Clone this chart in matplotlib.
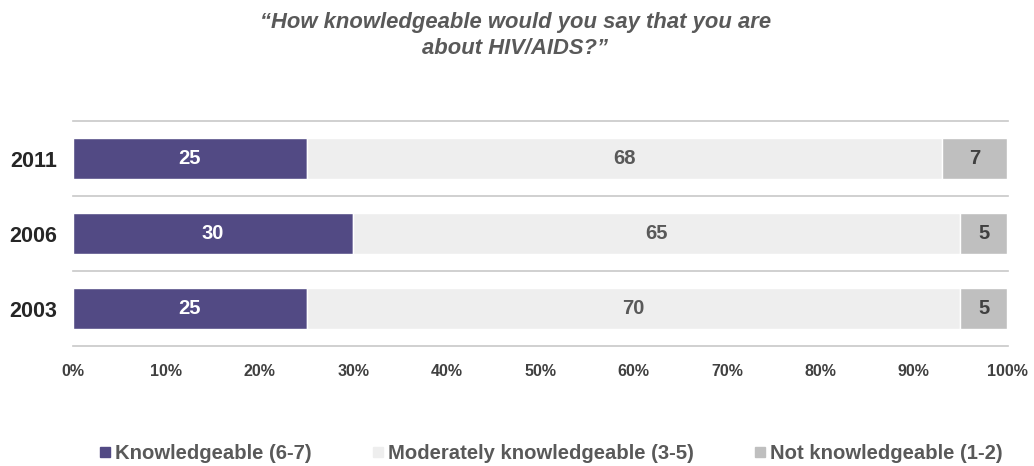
import matplotlib
matplotlib.use("Agg")
import matplotlib.pyplot as plt
from matplotlib.lines import Line2D

plt.rcParams['font.family'] = ['Liberation Sans', 'DejaVu Sans']
plt.rcParams['font.weight'] = 'bold'

years = ["2011", "2006", "2003"]
knowledgeable = [25, 30, 25]
moderate = [68, 65, 70]
not_knowledgeable = [7, 5, 5]
series_names = ["Knowledgeable (6-7)", "Moderately knowledgeable (3-5)", "Not knowledgeable (1-2)"]
colors = ["#524A84", "#EEEEEE", "#BFBFBF"]
label_colors = ["white", "#595959", "#404040"]
xticks = [0, 10, 20, 30, 40, 50, 60, 70, 80, 90, 100]

fig = plt.figure(figsize=(10.34, 4.66), dpi=100)
ax = fig.add_axes([0.0706, 0.2575, 0.9034, 0.4828])

ypos = list(range(len(years)))[::-1]  # 2011 on top
left = [0] * len(years)
for vals, c, lc in zip([knowledgeable, moderate, not_knowledgeable], colors, label_colors):
    bars = ax.barh(ypos, vals, left=left, height=0.54, color=c, edgecolor="white", linewidth=1)
    for b, v in zip(bars, vals):
        ax.text(b.get_x() + b.get_width() / 2, b.get_y() + b.get_height() / 2, str(v),
                ha="center", va="center", color=lc, fontsize=14.5, fontweight="bold")
    left = [l + v for l, v in zip(left, vals)]

ax.set_xlim(0, 100)
ax.set_ylim(-0.5, 2.5)
for yl in [-0.5, 0.5, 1.5, 2.5]:
    ax.axhline(yl, color="#C8C8C8", linewidth=1.2, xmin=0, xmax=1.001, clip_on=False)

ax.set_yticks(ypos)
ax.set_yticklabels(years, fontsize=15.5, fontweight="bold", color="#262626")
ax.set_xticks(xticks)
ax.set_xticklabels([f"{t}%" for t in xticks], fontsize=11.5, fontweight="bold", color="#404040")
ax.tick_params(axis="both", length=0)
ax.tick_params(axis="x", pad=13)
ax.tick_params(axis="y", pad=11.5)
for s in ax.spines.values():
    s.set_visible(False)

fig.text(0.4985, 0.924, "\u201cHow knowledgeable would you say that you are\nabout HIV/AIDS?\u201d",
         ha="center", va="center", fontsize=15.8, fontweight="bold", style="italic",
         color="#595959", linespacing=1.3)

handles = [Line2D([0], [0], marker="s", linestyle="none", markersize=7.5,
                  markerfacecolor=c, markeredgecolor=c) for c in colors]
fig.legend(handles, series_names, loc="center", bbox_to_anchor=(0.532, 0.026), ncol=3,
           frameon=False, fontsize=14.6, handletextpad=0.15, columnspacing=2.9,
           labelcolor="#595959", handlelength=0.7)

fig.savefig("out.png", dpi=100)
